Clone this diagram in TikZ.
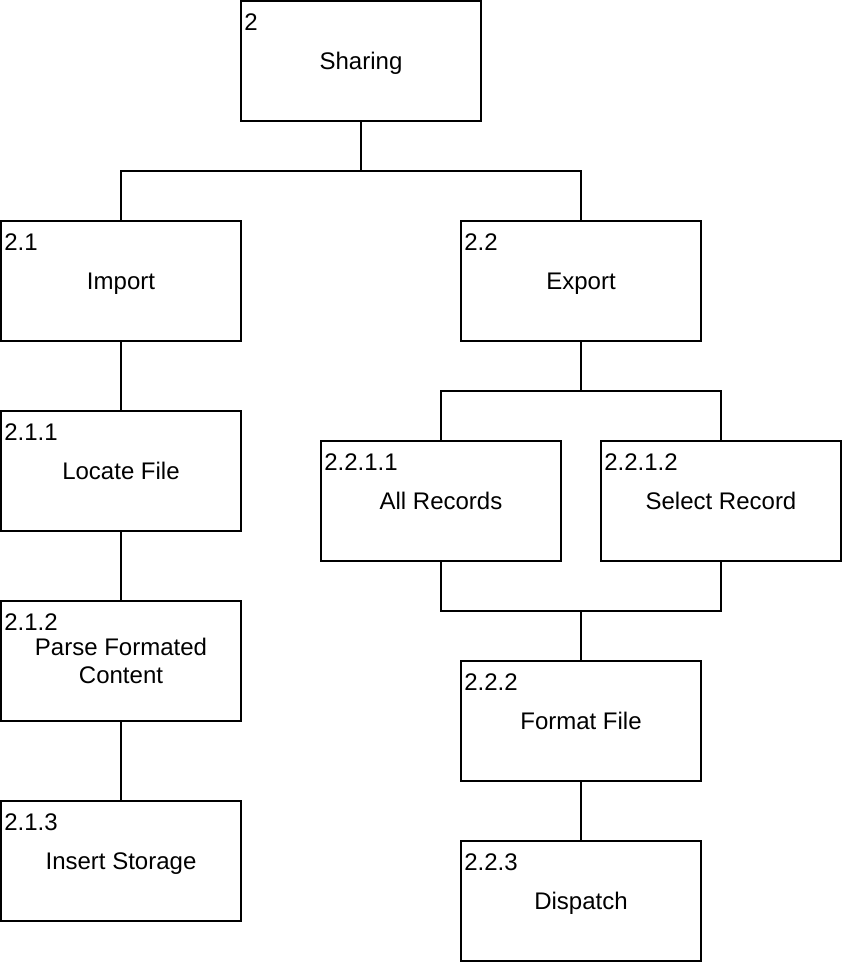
\documentclass[tikz,border=0pt]{standalone}
\usepackage{fontspec}
\setmainfont{Liberation Sans}
\usetikzlibrary{positioning}

\begin{document}
\begin{tikzpicture}[
    x=0.75pt, y=-0.75pt,
    every node/.style={font=\fontsize{18pt}{21pt}\selectfont},
    box/.style={
        rectangle,
        draw=black,
        line width=1.5pt,
        minimum width=180pt,
        minimum height=90pt,
        inner sep=0pt,
        text height=16pt,
        text depth=3pt,
        align=center
    },
    num/.style={anchor=north west, inner sep=0pt},
    link/.style={line width=1.5pt, draw=black}
]
\useasboundingbox (0,0) rectangle (842,962);

% Root
\node[box] (sharing) at (361,61) {Sharing};

% Second level
\node[box] (import) at (121,281) {Import};
\node[box] (export) at (581,281) {Export};

% Import branch
\node[box] (locate) at (121,471) {Locate File};
\node[box, text height=, text depth=] (parse) at (121,661) {Parse Formated\\Content};
\node[box] (insert) at (121,861) {Insert Storage};

% Export branch
\node[box] (allrec) at (441,501) {All Records};
\node[box] (selrec) at (721,501) {Select Record};
\node[box] (format) at (581,721) {Format File};
\node[box] (dispatch) at (581,901) {Dispatch};

% Numbers
\node[num] (n2) at ([shift={(4,13)}]sharing.north west) {2};
\node[num] (n21) at ([shift={(4,13)}]import.north west) {2.1};
\node[num] (n22) at ([shift={(4,13)}]export.north west) {2.2};
\node[num] (n211) at ([shift={(4,13)}]locate.north west) {2.1.1};
\node[num] (n212) at ([shift={(4,13)}]parse.north west) {2.1.2};
\node[num] (n213) at ([shift={(4,13)}]insert.north west) {2.1.3};
\node[num] (n2211) at ([shift={(4,13)}]allrec.north west) {2.2.1.1};
\node[num] (n2212) at ([shift={(4,13)}]selrec.north west) {2.2.1.2};
\node[num] (n222) at ([shift={(4,13)}]format.north west) {2.2.2};
\node[num] (n223) at ([shift={(4,13)}]dispatch.north west) {2.2.3};

% Junctions
\coordinate (j0) at (361,171);
\coordinate (j1) at (581,391);
\coordinate (j2) at (581,611);

% Connectors
\draw[link] (sharing.south) -- (j0);
\draw[link] (j0) -| (import.north);
\draw[link] (j0) -| (export.north);

\draw[link] (import) -- (locate);
\draw[link] (locate) -- (parse);
\draw[link] (parse) -- (insert);

\draw[link] (export.south) -- (j1);
\draw[link] (j1) -| (allrec.north);
\draw[link] (j1) -| (selrec.north);

\draw[link] (allrec.south) |- (j2);
\draw[link] (j2) -| (selrec.south);
\draw[link] (j2) -- (format.north);
\draw[link] (format) -- (dispatch);

\end{tikzpicture}
\end{document}
